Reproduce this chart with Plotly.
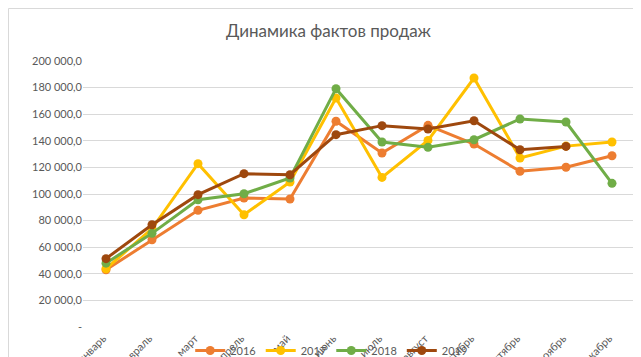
import plotly.graph_objects as go

months = ["январь", "февраль", "март", "апрель", "май", "июнь", "июль",
          "август", "сентябрь", "октябрь", "ноябрь", "декабрь"]
s2016 = [43000, 65600, 87700, 97000, 96200, 154700, 130800, 151600, 137600, 117100, 120100, 128800]
s2017 = [43800, 74000, 122800, 84400, 109000, 172200, 112500, 140300, 187200, 127100, 136000, 139100]
s2018 = [48000, 70400, 95700, 100200, 112000, 179200, 139100, 135100, 140800, 156400, 154100, 108000]
s2019 = [51400, 76900, 99500, 115300, 114500, 144600, 151400, 148900, 155100, 133300, 135800, None]
series_names = ["2016", "2017", "2018", "2019"]
colors = ["#ED7D31", "#FFC000", "#70AD47", "#9E480E"]
y_tickvals = [0, 20000, 40000, 60000, 80000, 100000, 120000, 140000, 160000, 180000, 200000]
y_ticktext = ["-", "20 000,0", "40 000,0", "60 000,0", "80 000,0", "100 000,0",
              "120 000,0", "140 000,0", "160 000,0", "180 000,0", "200 000,0"]

fig = go.Figure()
for name, vals, c in zip(series_names, [s2016, s2017, s2018, s2019], colors):
    fig.add_trace(go.Scatter(
        x=months, y=vals, name=name, mode="lines+markers",
        line=dict(color=c, width=3),
        marker=dict(color=c, size=9),
    ))

fig.update_layout(
    width=641, height=357,
    margin=dict(l=75, r=14, t=53, b=38, autoexpand=False),
    paper_bgcolor="white", plot_bgcolor="white",
    font=dict(family="Lato, Carlito, sans-serif", color="#595959", size=11),
    title=dict(text="Динамика фактов продаж", x=0.5, xanchor="center",
               y=0.935, yanchor="middle",
               font=dict(size=17, color="#595959")),
    showlegend=True,
    legend=dict(orientation="h", xref="container", yref="container",
                x=0.505, xanchor="center", y=0.0, yanchor="bottom",
                itemwidth=30,
                font=dict(size=11, color="#595959"),
                bgcolor="rgba(0,0,0,0)"),
    xaxis=dict(type="category", tickangle=-45, showgrid=False, showline=False,
               ticks="", automargin=False, tickfont=dict(size=11, color="#595959"),
               ticklabelstandoff=2, ticklabelshift=-3,
               range=[-0.5, 11.5]),
    yaxis=dict(range=[0, 200000], tickvals=y_tickvals, ticktext=y_ticktext,
               showgrid=True, gridcolor="#D9D9D9", gridwidth=1, zeroline=False,
               showline=False, ticks="", ticklen=0, automargin=False,
               tickfont=dict(size=11, color="#595959")),
    shapes=[dict(type="rect", xref="paper", yref="paper",
                 x0=-74.5/552, x1=1 + 13.5/552, y0=-40/266, y1=1 + 52.5/266,
                 line=dict(color="#D9D9D9", width=1), fillcolor="rgba(0,0,0,0)",
                 layer="below")],
)

fig.write_html("out.html")
